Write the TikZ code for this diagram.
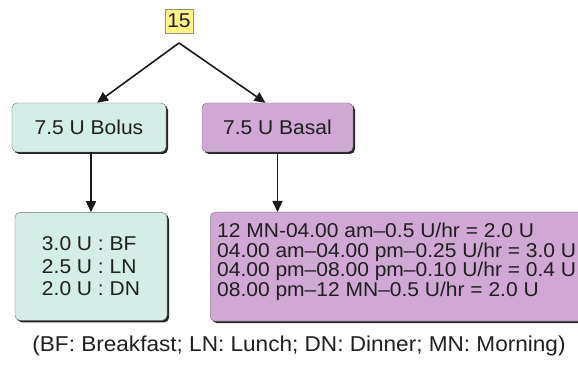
\documentclass[tikz,border=0pt]{standalone}
\usepackage{fontspec}
\setmainfont{Liberation Sans}[FakeStretch=1.05]
\usepackage{tikz}
\usetikzlibrary{arrows.meta,positioning,calc,shadows}
\definecolor{bolusgreen}{HTML}{D5EDE7}
\definecolor{basalpurple}{HTML}{D0A8D4}
\definecolor{totalyellow}{HTML}{FFF38A}

\begin{document}
\begin{tikzpicture}[x=1pt,y=1pt,font=\fontsize{20pt}{22.5pt}\selectfont,text=black!88,
  dose/.style={draw=black!55,rounded corners=5pt,inner sep=0pt,
    general shadow={fill=black!85,shadow xshift=2pt,shadow yshift=-2pt}},
  total/.style={draw=black!45,fill=totalyellow,minimum width=28pt,minimum height=24pt,inner sep=0pt},
  ar/.style={-{Triangle[length=11pt,width=10pt]},line width=1.6pt,black!90}]
\useasboundingbox (0,0) rectangle (578,366);
\node[total] (t) at (179,345) {15};
\coordinate (split) at (179,323);
\node[dose,fill=bolusgreen,minimum width=154pt,minimum height=49pt] (bolus) at (89,238.5) {7.5 U Bolus};
\node[dose,fill=basalpurple,minimum width=151pt,minimum height=49pt] (basal) at (277.5,238.5) {7.5 U Basal};
\node[dose,fill=bolusgreen,minimum width=152pt,minimum height=108pt,align=left,
  below=60pt of bolus,xshift=2pt] (meals) {3.0 U : BF\\ 2.5 U : LN\\ 2.0 U : DN};
\node[dose,fill=basalpurple,minimum width=380pt,minimum height=109pt,anchor=north west] (rates) at (210,154) {};
\node[anchor=north west,inner sep=0pt,align=left,font=\fontsize{20pt}{19.5pt}\selectfont]
  (ratestext) at ($(rates.north west)+(7,-11)$)
  {12 MN-04.00 am--0.5 U/hr = 2.0 U\\ 04.00 am--04.00 pm--0.25 U/hr = 3.0 U\\
   04.00 pm--08.00 pm--0.10 U/hr = 0.4 U\\ 08.00 pm--12 MN--0.5 U/hr = 2.0 U};
\draw[ar] (split) -- ($(bolus.north)+(8,0)$);
\draw[ar] (split) -- ($(basal.north)+(-12,0)$);
\draw[ar] (bolus.south -| meals.north) -- (meals.north);
\draw[ar] (basal.south) -- (basal.south |- rates.north);
\node[font=\fontsize{21.5pt}{24pt}\selectfont] (note) at (299,20) {(BF: Breakfast; LN: Lunch; DN: Dinner; MN: Morning)};
\end{tikzpicture}
\end{document}
